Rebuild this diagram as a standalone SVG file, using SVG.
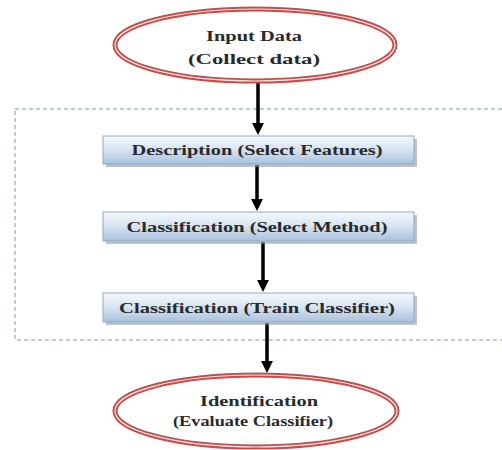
<svg xmlns="http://www.w3.org/2000/svg" width="502" height="450" viewBox="0 0 502 450">
<style>
.t{font-family:"Liberation Serif","Times New Roman",serif;font-weight:bold;font-size:15px;fill:#2a2a2a;text-anchor:middle}
.ell{fill:#fff;stroke:#c0504d;stroke-width:5}
.ellin{fill:none;stroke:#fbe3e3;stroke-width:1.2}
.box{fill:url(#bg);stroke:#8ea9c8;stroke-width:1}
.sh{fill:#9a9a9a;opacity:0.6}
.c{stroke:#000;stroke-width:3.5;fill:none;marker-end:url(#ah)}
</style>
<defs>
<linearGradient id="bg" x1="0" y1="0" x2="0" y2="1">
<stop offset="0" stop-color="#f4f8fc"/>
<stop offset="0.5" stop-color="#d6e3f1"/>
<stop offset="1" stop-color="#a9c1dd"/>
</linearGradient>
<marker id="ah" markerWidth="3.4" markerHeight="3.4" refX="2" refY="1.7" orient="auto" markerUnits="strokeWidth">
<path d="M0,0 L3.4,1.7 L0,3.4 z" fill="#000"/>
</marker>
</defs>
<rect x="15" y="109" width="500" height="231" fill="none" stroke="#7f98b8" stroke-width="1" stroke-dasharray="4,3"/>
<g id="connectors">
<line class="c" x1="258" y1="82" x2="258" y2="130"/>
<line class="c" x1="257" y1="165" x2="257" y2="206"/>
<line class="c" x1="263" y1="242" x2="263" y2="287"/>
<line class="c" x1="267" y1="323" x2="267" y2="368"/>
</g>
<g id="input">
<ellipse class="ell" cx="255" cy="45" rx="140" ry="36"/>
<ellipse class="ellin" cx="255" cy="45" rx="140" ry="36"/>
<text class="t" x="254" y="41" textLength="96" lengthAdjust="spacingAndGlyphs">Input Data</text>
<text class="t" x="254" y="64" textLength="132" lengthAdjust="spacingAndGlyphs">(Collect data)</text>
</g>
<g id="desc">
<rect class="sh" x="106" y="139" width="311" height="28"/>
<rect class="box" x="103" y="136" width="311" height="28"/>
<text class="t" x="257" y="155" textLength="251" lengthAdjust="spacingAndGlyphs">Description (Select Features)</text>
</g>
<g id="method">
<rect class="sh" x="106" y="215" width="311" height="29"/>
<rect class="box" x="103" y="212" width="311" height="29"/>
<text class="t" x="257" y="232" textLength="261" lengthAdjust="spacingAndGlyphs">Classification (Select Method)</text>
</g>
<g id="train">
<rect class="sh" x="106" y="296" width="311" height="29"/>
<rect class="box" x="103" y="293" width="311" height="29"/>
<text class="t" x="257" y="313" textLength="276" lengthAdjust="spacingAndGlyphs">Classification (Train Classifier)</text>
</g>
<g id="ident">
<ellipse class="ell" cx="256" cy="411" rx="141" ry="36"/>
<ellipse class="ellin" cx="256" cy="411" rx="141" ry="36"/>
<text class="t" x="259" y="406" textLength="118" lengthAdjust="spacingAndGlyphs">Identification</text>
<text class="t" x="253" y="426" textLength="160" lengthAdjust="spacingAndGlyphs">(Evaluate Classifier)</text>
</g>
</svg>
